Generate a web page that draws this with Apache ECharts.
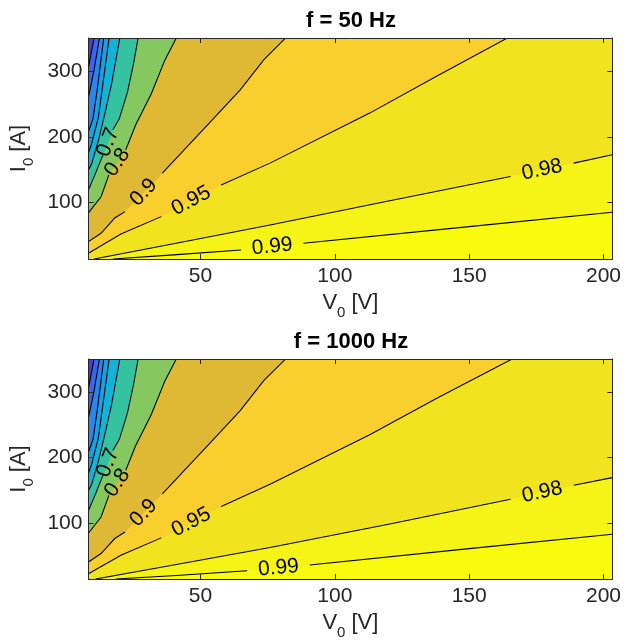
<!DOCTYPE html>
<html>
<head>
<meta charset="utf-8">
<script src="https://cdn.jsdelivr.net/npm/echarts@6/dist/echarts.min.js"></script>
<style>
  html, body { margin: 0; padding: 0; background: #fff; }
  #chart { width: 624px; height: 641px; }
</style>
</head>
<body>
<div id="chart"></div>
<script>
// axis ranges and ticks
const xRange = [8.3, 203.3];
const yRange = [14, 351];
const xTicks = [50, 100, 150, 200];
const yTicks = [100, 200, 300];

// contour levels, painted from highest to lowest
const levels = ['0.99', '0.98', '0.95', '0.9', '0.8', '0.7', '0.6', '0.5', '0.4', '0.3', '0.2'];

// contour lines [V0, I0], null = gap where the level label sits
// f = 50 Hz
const hz50_099 = [[17.4, 14], [40, 20.3], [65.1, 27.8], null, [88.3, 38], [150, 63.4], [203.3, 85.3]];
const hz50_098 = [[10.4, 14], [40, 37.3], [75.9, 66], [120, 102.3], [165.4, 139.7], null, [188.9, 160.2], [203.3, 172.8]];
const hz50_095 = [[8.3, 22.7], [20.4, 52], [35.4, 78.6], null, [57.7, 127], [75.9, 160.2], [113, 236.5], [137.7, 292.4], [164.2, 351]];
const hz50_090 = [[8.3, 40.5], [13.0, 53.3], [18.1, 76.6], [21.9, 86.3], null, [35.8, 144.9], [53.7, 223.2], [64.8, 272], [73.7, 318.5], [81.7, 351]];
const hz50_080 = [[8.3, 84.3], [13.0, 109], [15.9, 142.3], null, [22.2, 180.5], [25.9, 218.6], [31.7, 266], [36.7, 316.8], [41.0, 351]];
const hz50_070 = [[8.3, 119.4], [10.7, 142.3], [13.7, 172.8], null, [17.4, 211], [19.8, 228], [22.8, 268], [25.0, 310], [26.8, 351]];
const hz50_060 = [[8.3, 149.9], [9.5, 159.1], [12.0, 194.7], [14.4, 235.4], [16.9, 281.2], [20.0, 351]];
const hz50_050 = [[8.3, 176], [9.5, 190], [12.0, 230], [16.0, 351]];
const hz50_040 = [[8.3, 208], [10.0, 228], [11.5, 270], [14.0, 351]];
const hz50_030 = [[8.3, 261], [10.3, 300], [12.4, 351]];
const hz50_020 = [[8.3, 306], [10.4, 351]];

// f = 1000 Hz
const hz1k_099 = [[18.5, 14], [41, 19.5], [67.4, 26.5], null, [90.7, 35.4], [150, 60.5], [203.3, 82.7]];
const hz1k_098 = [[11, 14], [40, 35.5], [75.9, 62.4], [120, 98], [165.4, 136.2], null, [188.9, 157.5], [203.3, 169.3]];
const hz1k_095 = [[8.3, 22], [20.4, 50.5], [35.4, 77], null, [57.7, 125], [75.9, 159], [113, 235], [138.5, 292], [166, 351]];
const hz1k_090 = [[8.3, 40], [13.0, 53], [18.1, 76], [21.9, 86], null, [35.8, 144.5], [53.7, 223], [64.8, 272], [73.7, 318.5], [81.7, 351]];
const hz1k_080 = [[8.3, 84], [13.0, 109], [15.9, 142], null, [22.2, 180.5], [25.9, 218.6], [31.7, 266], [36.7, 316.8], [41.0, 351]];
const hz1k_070 = [[8.3, 119], [10.7, 142], [13.7, 172.8], null, [17.4, 211], [19.8, 228], [22.8, 268], [25.0, 310], [26.8, 351]];
const hz1k_060 = [[8.3, 149.5], [9.5, 159], [12.0, 194.7], [14.4, 235.4], [16.9, 281.2], [20.0, 351]];
const hz1k_050 = [[8.3, 176], [9.5, 190], [12.0, 230], [16.0, 351]];
const hz1k_040 = [[8.3, 208], [10.0, 228], [11.5, 270], [14.0, 351]];
const hz1k_030 = [[8.3, 261], [10.3, 300], [12.4, 351]];
const hz1k_020 = [[8.3, 306], [10.4, 351]];

const hz50Lines = [hz50_099, hz50_098, hz50_095, hz50_090, hz50_080, hz50_070, hz50_060, hz50_050, hz50_040, hz50_030, hz50_020];
const hz1kLines = [hz1k_099, hz1k_098, hz1k_095, hz1k_090, hz1k_080, hz1k_070, hz1k_060, hz1k_050, hz1k_040, hz1k_030, hz1k_020];

// colour of the band just under each level (parula-like)
const topColor = '#f9fb0e';
const bandColors = ['#f6f316', '#f1e41f', '#f9cf2d', '#dfb934', '#84c85f', '#34c2a0', '#14b3d6', '#1a9fe2', '#2c86ea', '#3a66ee', '#4540d8'];

const FONT = 'Liberation Sans, Arial, sans-serif';
const AXIS_COLOR = '#262626';

const chart = echarts.init(document.getElementById('chart'));

function fillRenderer(lines) {
  return function (params, api) {
    const pts = lines[params.dataIndex].filter(function (p) { return p; });
    const first = pts[0];
    const last = pts[pts.length - 1];
    const poly = pts.slice();
    if (last[0] >= xRange[1] - 1e-6 && last[1] < yRange[1]) {
      poly.push([xRange[1], yRange[1]]);
    }
    poly.push([xRange[0], yRange[1]]);
    poly.push([xRange[0], first[1]]);
    const c = bandColors[params.dataIndex];
    return {
      type: 'polygon',
      shape: { points: poly.map(function (p) { return api.coord(p); }) },
      style: { fill: c, stroke: c, lineWidth: 0.6 }
    };
  };
}

function lineRenderer(lines) {
  return function (params, api) {
    const segs = [[]];
    lines[params.dataIndex].forEach(function (p) {
      if (p) segs[segs.length - 1].push(api.coord(p));
      else segs.push([]);
    });
    const children = segs.map(function (s) {
      return {
        type: 'polyline',
        shape: { points: s },
        style: { stroke: '#000', lineWidth: 1.05, fill: null }
      };
    });
    // level label inside the gap, turned along the line
    const line = lines[params.dataIndex];
    const k = line.indexOf(null);
    if (k > 0) {
      const a = api.coord(line[k - 1]);
      const b = api.coord(line[k + 1]);
      children.push({
        type: 'text',
        x: (a[0] + b[0]) / 2,
        y: (a[1] + b[1]) / 2,
        rotation: Math.atan2(a[1] - b[1], b[0] - a[0]),
        style: {
          text: levels[params.dataIndex],
          fill: '#000',
          font: '21px ' + FONT,
          align: 'center',
          verticalAlign: 'middle'
        }
      });
    }
    return { type: 'group', children: children };
  };
}

function xAxes(g, name) {
  return [{
    gridIndex: g, type: 'value', position: 'bottom', min: xRange[0], max: xRange[1], z: 10,
    axisLine: { show: true, lineStyle: { color: AXIS_COLOR, width: 1 } },
    axisTick: { show: true, inside: true, length: 5, customValues: xTicks, lineStyle: { color: AXIS_COLOR } },
    axisLabel: { customValues: xTicks, fontSize: 21, color: AXIS_COLOR, fontFamily: FONT, margin: 7 },
    splitLine: { show: false },
    name: name, nameLocation: 'middle', nameGap: 26,
    nameTextStyle: {
      color: AXIS_COLOR, fontFamily: FONT,
      rich: { n: { fontSize: 22, fontFamily: FONT, color: AXIS_COLOR }, s: { fontSize: 15, fontFamily: FONT, color: AXIS_COLOR, padding: [20, 0, 0, 0] } }
    }
  }, {
    gridIndex: g, type: 'value', position: 'top', min: xRange[0], max: xRange[1], z: 10,
    axisLine: { show: true, lineStyle: { color: AXIS_COLOR, width: 1 } },
    axisTick: { show: true, inside: true, length: 5, customValues: xTicks, lineStyle: { color: AXIS_COLOR } },
    axisLabel: { show: false },
    splitLine: { show: false }
  }];
}

function yAxes(g, name) {
  return [{
    gridIndex: g, type: 'value', position: 'left', min: yRange[0], max: yRange[1], z: 10,
    axisLine: { show: true, lineStyle: { color: AXIS_COLOR, width: 1 } },
    axisTick: { show: true, inside: true, length: 5, customValues: yTicks, lineStyle: { color: AXIS_COLOR } },
    axisLabel: { customValues: yTicks, fontSize: 21, color: AXIS_COLOR, fontFamily: FONT, margin: 6 },
    splitLine: { show: false },
    name: name, nameLocation: 'middle', nameGap: 50,
    nameTextStyle: {
      color: AXIS_COLOR, fontFamily: FONT,
      rich: { n: { fontSize: 22, fontFamily: FONT, color: AXIS_COLOR }, s: { fontSize: 15, fontFamily: FONT, color: AXIS_COLOR, padding: [20, 0, 0, 0] } }
    }
  }, {
    gridIndex: g, type: 'value', position: 'right', min: yRange[0], max: yRange[1], z: 10,
    axisLine: { show: true, lineStyle: { color: AXIS_COLOR, width: 1 } },
    axisTick: { show: true, inside: true, length: 5, customValues: yTicks, lineStyle: { color: AXIS_COLOR } },
    axisLabel: { show: false },
    splitLine: { show: false }
  }];
}

function panelSeries(g, lines) {
  const idx = levels.map(function (_, i) { return [i, i]; });
  return [{
    type: 'custom', xAxisIndex: 2 * g, yAxisIndex: 2 * g, clip: true, silent: true, z: 2,
    renderItem: fillRenderer(lines), data: idx
  }, {
    type: 'custom', xAxisIndex: 2 * g, yAxisIndex: 2 * g, clip: true, silent: true, z: 3,
    renderItem: lineRenderer(lines), data: idx
  }];
}

const option = {
  animation: false,
  title: [
    { text: 'f = 50 Hz', left: 351, top: 21, padding: 0, textAlign: 'center', textVerticalAlign: 'middle',
      textStyle: { fontSize: 22, fontWeight: 'bold', fontFamily: FONT, color: '#000' } },
    { text: 'f = 1000 Hz', left: 351, top: 342, padding: 0, textAlign: 'center', textVerticalAlign: 'middle',
      textStyle: { fontSize: 22, fontWeight: 'bold', fontFamily: FONT, color: '#000' } }
  ],
  grid: [
    { left: 88, top: 38, width: 526, height: 221, show: true, backgroundColor: topColor, borderWidth: 0 },
    { left: 88, top: 359, width: 526, height: 221, show: true, backgroundColor: topColor, borderWidth: 0 }
  ],
  xAxis: xAxes(0, '{n|V}{s|0}{n| [V]}').concat(xAxes(1, '{n|V}{s|0}{n| [V]}')),
  yAxis: yAxes(0, '{n|I}{s|0}{n| [A]}').concat(yAxes(1, '{n|I}{s|0}{n| [A]}')),
  series: panelSeries(0, hz50Lines).concat(panelSeries(1, hz1kLines))
};

chart.setOption(option);
</script>
</body>
</html>
